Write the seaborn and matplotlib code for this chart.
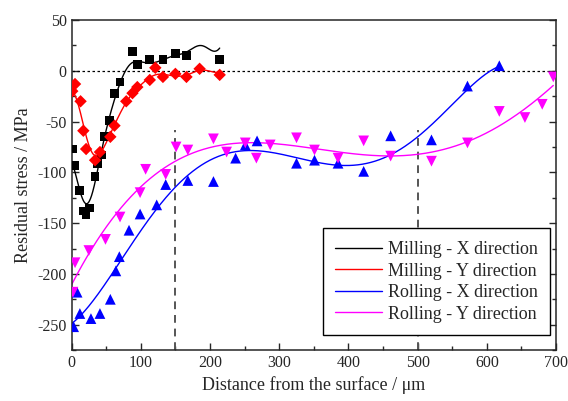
import numpy as np
import pandas as pd
import matplotlib
matplotlib.use("Agg")
import matplotlib.pyplot as plt
import seaborn as sns

# Milling - X direction
mx_x = [1, 5, 11, 17, 21, 26, 34, 37, 43, 48, 55, 62, 70, 88, 95, 113, 132, 150, 166, 214]
mx_y = [-77, -93, -118, -138, -142, -135, -104, -91, -83, -65, -49, -22, -11, 19, 6, 11, 11, 17, 15, 11]

# Milling - Y direction
my_x = [1, 5, 13, 17, 21, 34, 41, 56, 62, 79, 88, 95, 113, 121, 132, 150, 166, 185, 214]
my_y = [-20, -13, -30, -59, -77, -88, -80, -65, -54, -30, -22, -16, -9, 3, -6, -3, -6, 2, -4]

# Rolling - X direction
rx_x = [3, 8, 12, 28, 41, 56, 64, 69, 83, 99, 123, 136, 168, 205, 237, 251, 268,
        325, 351, 385, 422, 461, 520, 572, 618]
rx_y = [-252, -218, -239, -244, -239, -225, -197, -183, -157, -141, -132, -112, -108, -109, -86, -73, -69,
        -91, -88, -91, -99, -64, -68, -15, 5]

# Rolling - Y direction
ry_x = [2, 5, 25, 49, 70, 99, 107, 136, 151, 168, 205, 224, 251, 267, 287, 325, 351,
        385, 422, 461, 520, 572, 618, 655, 680, 696]
ry_y = [-218, -189, -177, -166, -144, -120, -97, -102, -75, -78, -67, -80, -71, -86, -73, -66, -78,
        -86, -69, -84, -89, -71, -40, -46, -33, -6]

labels = ["Milling - X direction", "Milling - Y direction",
          "Rolling - X direction", "Rolling - Y direction"]
colors = ["black", "red", "blue", "magenta"]
markers = ["s", "D", "^", "v"]
sizes = [40, 40, 60, 60]
series = [(mx_x, mx_y), (my_x, my_y), (rx_x, rx_y), (ry_x, ry_y)]
limits = [150, 500]


def smooth(xs, ys, xf, kind):
    # milling: kernel ridge (rbf), rolling: 5th order polynomial
    xs = np.asarray(xs, float)
    ys = np.asarray(ys, float)
    if kind == "poly":
        return np.polynomial.Polynomial.fit(xs, ys, 5)(xf)
    ell, lam = 18.0, 0.25
    lin = np.polynomial.Polynomial.fit(xs, ys, 1)
    r = ys - lin(xs)
    K = np.exp(-0.5 * ((xs[:, None] - xs[None, :]) / ell) ** 2)
    w = np.linalg.solve(K + lam * np.eye(len(xs)), r)
    Kf = np.exp(-0.5 * ((xf[:, None] - xs[None, :]) / ell) ** 2)
    return lin(xf) + Kf @ w


sns.set_style("ticks")
plt.rcParams["font.family"] = ["Liberation Serif", "DejaVu Serif"]
plt.rcParams["axes.unicode_minus"] = False
plt.rcParams["xtick.direction"] = "in"
plt.rcParams["ytick.direction"] = "in"

fig, ax = plt.subplots(figsize=(5.68, 4.01), dpi=100)
fig.subplots_adjust(left=0.126, right=0.979, top=0.950, bottom=0.127)

ax.axhline(0, color="black", linestyle=(0, (2, 2)), linewidth=0.9, zorder=1)
ax.vlines(limits, -275, -58, colors="#555555", linestyles=(0, (4, 3)), linewidth=1.4, zorder=1)

handles = []
for i, ((xs, ys), lab, c, m, s) in enumerate(zip(series, labels, colors, markers, sizes)):
    df = pd.DataFrame({"x": xs, "y": ys})
    sns.scatterplot(data=df, x="x", y="y", marker=m, color=c, s=s, edgecolor="none", ax=ax, zorder=3)
    xf = np.linspace(0, max(xs), 400)
    yf = smooth(xs, ys, xf, "rbf" if i < 2 else "poly")
    fit = pd.DataFrame({"x": xf, "y": yf})
    sns.lineplot(data=fit, x="x", y="y", color=c, linewidth=1.0, ax=ax, zorder=2)
    handles.append(plt.Line2D([], [], color=c, linewidth=1.0, label=lab))

ax.set_xlim(0, 700)
ax.set_ylim(-275, 50)
ax.set_xticks(np.arange(0, 701, 100))
ax.set_yticks(np.arange(-250, 51, 50))
ax.set_xticks(np.arange(0, 701, 50), minor=True)
ax.set_yticks(np.arange(-275, 51, 25), minor=True)
ax.tick_params(which="major", length=5, width=1, labelsize=11.5, right=True)
ax.tick_params(which="minor", length=3, width=1, right=True)
for sp in ax.spines.values():
    sp.set_linewidth(1.1)

ax.set_xlabel("Distance from the surface / μm", fontsize=13)
ax.set_ylabel("Residual stress / MPa", fontsize=13)

leg = ax.legend(handles=handles, loc="lower right", bbox_to_anchor=(0.988, 0.045),
                fontsize=13, frameon=True, fancybox=False, framealpha=1,
                edgecolor="black", handlelength=2.6, handletextpad=0.3,
                labelspacing=0.25, borderpad=0.7, borderaxespad=0)
leg.get_frame().set_linewidth(1.0)

fig.savefig("out.png", dpi=100)
